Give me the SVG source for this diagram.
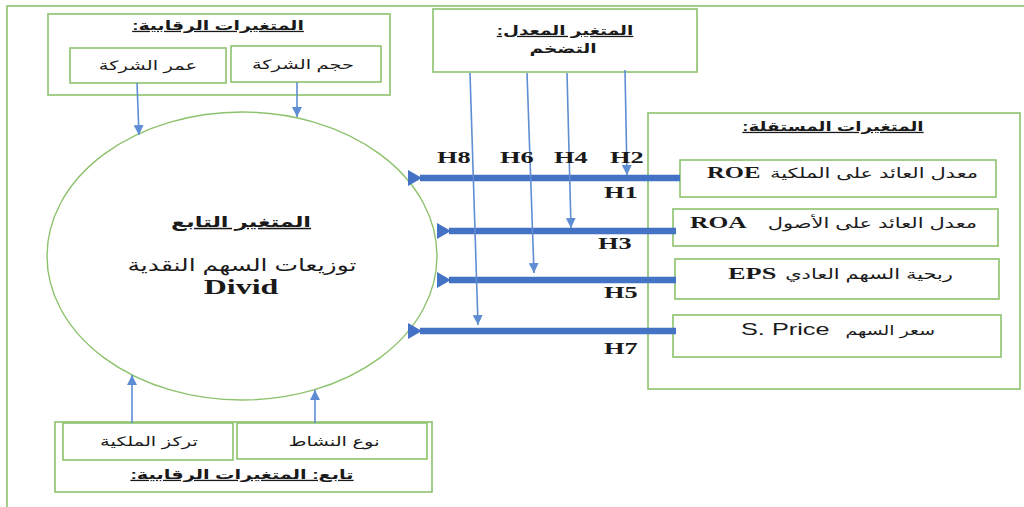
<svg xmlns="http://www.w3.org/2000/svg" width="1024" height="507" viewBox="0 0 1024 507">
<style>
.box{fill:#fff;stroke:#8DC26C;stroke-width:1.6}
.ar{font-family:"Liberation Sans","DejaVu Sans",sans-serif;font-size:13px;fill:#1a1a1a}
.tt{font-family:"Liberation Sans","DejaVu Sans",sans-serif;font-size:13px;font-weight:bold;fill:#1a1a1a;text-decoration:underline}
.lat{font-family:"Liberation Serif",serif;font-weight:bold;font-size:17px;fill:#1a1a1a}
.h{font-family:"Liberation Serif",serif;font-weight:bold;font-size:17px;fill:#1a1a1a}
.thin{stroke:#5F8DD3;stroke-width:1.6;fill:none}
.thick{stroke:#4472C4;stroke-width:6.5;fill:none}
</style>
<defs>
<marker id="ah" markerUnits="userSpaceOnUse" markerWidth="12" markerHeight="10" refX="10" refY="5" orient="auto">
<path d="M0,0 L10,5 L0,10 Z" fill="#5F8DD3"/>
</marker>
<marker id="ahb" markerUnits="userSpaceOnUse" markerWidth="16" markerHeight="16" refX="2" refY="8" orient="auto">
<path d="M0,8 L14,0 L14,16 Z" fill="#4472C4"/>
</marker>
</defs>
<rect x="0" y="0" width="1024" height="507" fill="#fff"/>
<rect x="7" y="6" width="1040" height="520" fill="none" stroke="#8DC26C" stroke-width="1.6"/>

<g id="control-top">
<rect class="box" x="48" y="14" width="342" height="81"/>
<text class="tt" text-anchor="middle" direction="rtl" transform="translate(218,30) scale(1.45,1)">المتغيرات الرقابية:</text>
<rect class="box" x="70" y="48" width="156" height="35"/>
<text class="ar" text-anchor="middle" transform="translate(148,70) scale(1.5,1)">عمر الشركة</text>
<rect class="box" x="231" y="46" width="150" height="36"/>
<text class="ar" text-anchor="middle" transform="translate(303,69) scale(1.5,1)">حجم الشركة</text>
</g>

<g id="dependent">
<ellipse cx="242" cy="256" rx="195" ry="144" fill="#fff" stroke="#8DC26C" stroke-width="1.4"/>
<text class="tt" text-anchor="middle" transform="translate(241,227) scale(1.5,1)" style="font-size:15px">المتغير التابع</text>
<text class="ar" text-anchor="middle" transform="translate(242,271) scale(1.47,1)" style="font-size:17px">توزيعات السهم النقدية</text>
<text class="lat" text-anchor="middle" transform="translate(241,294) scale(1.6,1)" style="font-size:20px">Divid</text>
</g>

<g id="moderator">
<rect class="box" x="433" y="9" width="264" height="63"/>
<text class="tt" text-anchor="middle" direction="rtl" transform="translate(565,35) scale(1.42,1)">المتغير المعدل:</text>
<text class="ar" text-anchor="middle" transform="translate(563,53) scale(1.43,1)" style="font-weight:bold">التضخم</text>
</g>

<g id="independent">
<rect class="box" x="648" y="113" width="372" height="276"/>
<text class="tt" text-anchor="middle" direction="rtl" transform="translate(833,131) scale(1.41,1)">المتغيرات المستقلة:</text>
<rect class="box" x="680" y="160" width="316" height="37"/>
<text class="ar" text-anchor="end" transform="translate(978,178) scale(1.5,1)" style="font-size:14px">معدل العائد على الملكية</text>
<text class="lat" transform="translate(707,178) scale(1.45,1)">ROE</text>
<rect class="box" x="673" y="209" width="325" height="37"/>
<text class="ar" text-anchor="end" transform="translate(977,228) scale(1.5,1)" style="font-size:14px">معدل العائد على الأصول</text>
<text class="lat" transform="translate(690,228) scale(1.5,1)">ROA</text>
<rect class="box" x="675" y="259" width="324" height="40"/>
<text class="ar" text-anchor="end" transform="translate(953,279) scale(1.5,1)" style="font-size:14px">ربحية السهم العادي</text>
<text class="lat" transform="translate(728,279) scale(1.55,1)">EPS</text>
<rect class="box" x="673" y="315" width="328" height="42"/>
<text class="ar" text-anchor="end" transform="translate(935,335) scale(1.45,1)" style="font-size:13px">سعر السهم</text>
<text transform="translate(741,335) scale(1.58,1)" style="font-family:'Liberation Sans',sans-serif;font-size:16px;fill:#1a1a1a">S. Price</text>
</g>

<g id="control-bottom">
<rect class="box" x="55" y="422" width="377" height="70"/>
<rect class="box" x="63" y="423" width="170" height="37"/>
<text class="ar" text-anchor="middle" transform="translate(149,446) scale(1.5,1)">تركز الملكية</text>
<rect class="box" x="237" y="423" width="190" height="36"/>
<text class="ar" text-anchor="middle" transform="translate(334,446) scale(1.5,1)">نوع النشاط</text>
<text class="tt" text-anchor="middle" direction="rtl" transform="translate(242,479) scale(1.49,1)">تابع: المتغيرات الرقابية:</text>
</g>

<g id="connectors">
<line class="thin" x1="137" y1="83" x2="139" y2="135" marker-end="url(#ah)"/>
<line class="thin" x1="297" y1="82" x2="297" y2="117" marker-end="url(#ah)"/>
<line class="thin" x1="132" y1="423" x2="132" y2="375" marker-end="url(#ah)"/>
<line class="thin" x1="315" y1="423" x2="315" y2="390" marker-end="url(#ah)"/>
<line class="thick" x1="680" y1="178" x2="420" y2="178" marker-end="url(#ahb)"/>
<line class="thick" x1="676" y1="231" x2="449" y2="231" marker-end="url(#ahb)"/>
<line class="thick" x1="676" y1="280" x2="449" y2="280" marker-end="url(#ahb)"/>
<line class="thick" x1="676" y1="331" x2="420" y2="331" marker-end="url(#ahb)"/>
<line class="thin" x1="470" y1="73" x2="478" y2="325" marker-end="url(#ah)"/>
<line class="thin" x1="527" y1="73" x2="534" y2="273" marker-end="url(#ah)"/>
<line class="thin" x1="567" y1="73" x2="571" y2="228" marker-end="url(#ah)"/>
<line class="thin" x1="625" y1="70" x2="627" y2="175" marker-end="url(#ah)"/>
<text class="h" transform="translate(437,163) scale(1.55,1)">H8</text>
<text class="h" transform="translate(500,163) scale(1.55,1)">H6</text>
<text class="h" transform="translate(554,163) scale(1.55,1)">H4</text>
<text class="h" transform="translate(610,163) scale(1.55,1)">H2</text>
<text class="h" transform="translate(604,198) scale(1.55,1)">H1</text>
<text class="h" transform="translate(598,249) scale(1.55,1)">H3</text>
<text class="h" transform="translate(604,298) scale(1.55,1)">H5</text>
<text class="h" transform="translate(604,354) scale(1.55,1)">H7</text>
</g>
</svg>
